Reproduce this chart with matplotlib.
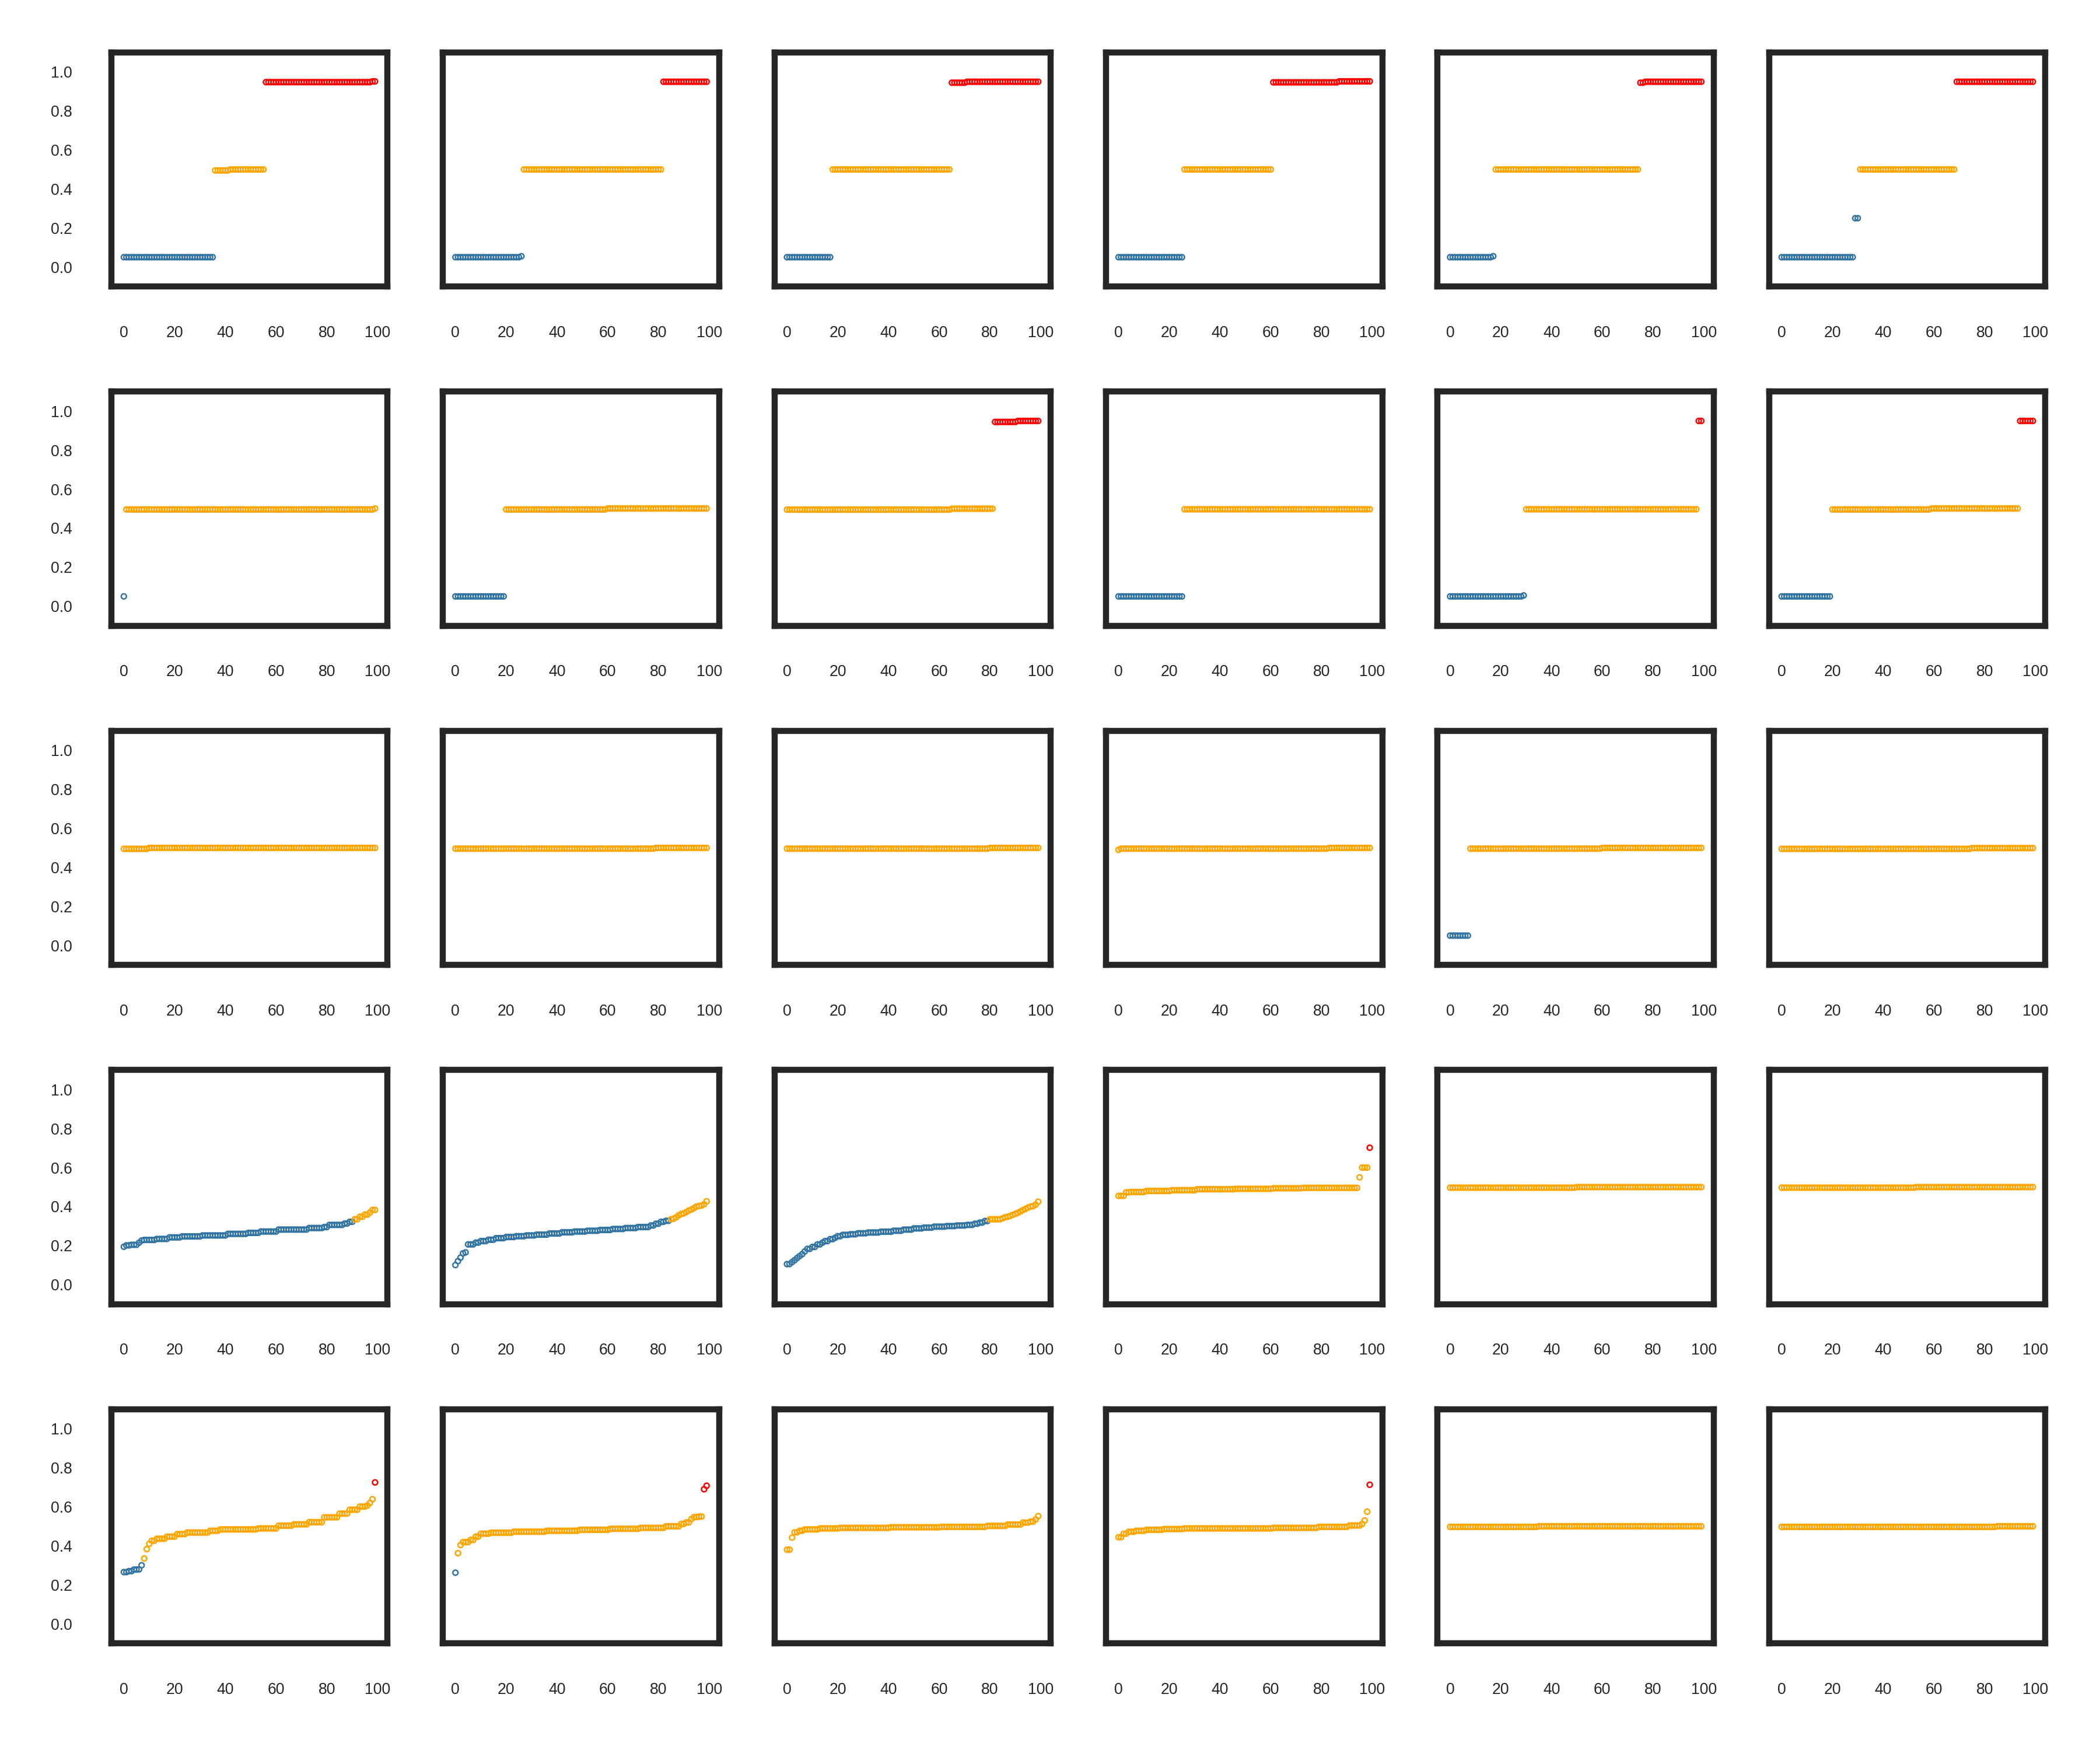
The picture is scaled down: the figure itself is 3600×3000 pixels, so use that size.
import numpy as np
import matplotlib
matplotlib.use("Agg")
import matplotlib.pyplot as plt

# every panel is 100 sorted scores, kept as (value, run length) pairs
# one list per panel, rows top to bottom
row1 = [
    [(0.05, 36), (0.495, 6), (0.5, 14), (0.948, 42), (0.952, 2)],
    [(0.05, 26), (0.055, 1), (0.5, 55), (0.95, 18)],
    [(0.05, 18), (0.5, 47), (0.945, 6), (0.95, 29)],
    [(0.05, 26), (0.5, 35), (0.947, 26), (0.952, 13)],
    [(0.05, 17), (0.055, 1), (0.5, 57), (0.945, 2), (0.95, 23)],
    [(0.05, 29), (0.25, 2), (0.5, 38), (0.95, 31)],
]
row2 = [
    [(0.05, 1), (0.496, 98), (0.501, 1)],
    [(0.05, 20), (0.496, 40), (0.501, 40)],
    [(0.495, 65), (0.5, 17), (0.945, 9), (0.95, 9)],
    [(0.05, 26), (0.497, 74)],
    [(0.05, 29), (0.055, 1), (0.497, 68), (0.95, 2)],
    [(0.05, 20), (0.496, 39), (0.501, 35), (0.95, 6)],
]
row3 = [
    [(0.495, 10), (0.5, 90)],
    [(0.496, 79), (0.5, 21)],
    [(0.496, 80), (0.5, 20)],
    [(0.49, 1), (0.496, 82), (0.5, 17)],
    [(0.05, 8), (0.496, 52), (0.5, 40)],
    [(0.495, 75), (0.499, 25)],
]
row4 = [
    [(0.194, 1), (0.201, 2), (0.204, 3), (0.215, 1), (0.226, 1), (0.229, 5),
     (0.234, 5), (0.242, 5), (0.247, 8), (0.252, 10), (0.26, 8), (0.265, 5),
     (0.272, 7), (0.282, 12), (0.29, 6), (0.295, 2), (0.306, 6), (0.313, 2),
     (0.322, 2), (0.335, 2), (0.348, 2), (0.359, 2), (0.37, 1), (0.383, 2)],
    [(0.10, 1), (0.12, 1), (0.138, 1), (0.16, 1), (0.165, 1), (0.206, 3),
     (0.215, 2), (0.223, 3), (0.23, 3), (0.238, 4), (0.244, 4), (0.248, 4),
     (0.252, 4), (0.256, 5), (0.262, 5), (0.268, 5), (0.272, 5), (0.276, 5),
     (0.28, 5), (0.285, 5), (0.29, 5), (0.295, 5), (0.303, 2), (0.312, 2),
     (0.322, 2), (0.327, 2),
     (0.335, 1), (0.338, 1), (0.345, 1), (0.355, 1), (0.362, 1), (0.365, 1),
     (0.372, 1), (0.38, 1), (0.385, 1), (0.392, 1), (0.40, 1), (0.403, 1),
     (0.405, 1), (0.412, 1), (0.427, 1)],
    [(0.105, 2), (0.115, 1), (0.125, 1), (0.136, 1), (0.146, 1), (0.156, 1),
     (0.17, 1), (0.183, 2), (0.193, 2), (0.206, 2), (0.215, 1), (0.223, 2),
     (0.233, 2), (0.24, 1), (0.248, 2), (0.255, 3), (0.258, 3), (0.263, 4),
     (0.267, 5), (0.271, 5), (0.276, 4), (0.282, 4), (0.288, 4), (0.292, 4),
     (0.297, 5), (0.30, 4), (0.303, 4), (0.306, 3), (0.312, 2), (0.318, 2),
     (0.326, 2),
     (0.335, 5), (0.34, 1), (0.345, 1), (0.348, 1), (0.352, 1), (0.358, 1),
     (0.363, 1), (0.368, 1), (0.375, 1), (0.382, 1), (0.388, 1), (0.395, 1),
     (0.40, 1), (0.402, 1), (0.41, 1), (0.425, 1)],
    [(0.455, 3), (0.473, 2), (0.475, 6), (0.48, 10), (0.484, 10), (0.489, 15),
     (0.491, 15), (0.494, 12), (0.496, 22), (0.55, 1), (0.60, 3), (0.702, 1)],
    [(0.497, 50), (0.5, 50)],
    [(0.497, 53), (0.5, 47)],
]
row5 = [
    [(0.265, 2), (0.27, 2), (0.278, 2), (0.279, 1), (0.30, 1), (0.335, 1),
     (0.383, 1), (0.41, 1), (0.426, 2), (0.436, 4), (0.447, 4), (0.46, 4),
     (0.468, 9), (0.477, 4), (0.484, 15), (0.489, 8), (0.503, 6), (0.51, 6),
     (0.521, 6), (0.546, 6), (0.565, 4), (0.585, 4), (0.601, 3), (0.607, 1),
     (0.62, 1), (0.639, 1), (0.725, 1)],
    [(0.262, 1), (0.362, 1), (0.404, 1), (0.419, 3), (0.43, 2), (0.447, 2),
     (0.462, 4), (0.467, 9), (0.472, 13), (0.477, 13), (0.482, 12), (0.487, 12),
     (0.492, 10), (0.50, 6), (0.512, 2), (0.52, 2), (0.537, 1), (0.547, 2),
     (0.55, 2), (0.69, 1), (0.708, 1)],
    [(0.38, 2), (0.442, 1), (0.469, 2), (0.477, 2), (0.484, 6), (0.489, 8),
     (0.492, 20), (0.495, 20), (0.497, 18), (0.502, 8), (0.509, 6), (0.519, 3),
     (0.524, 2), (0.535, 1), (0.552, 1)],
    [(0.444, 2), (0.462, 2), (0.472, 3), (0.477, 4), (0.482, 7), (0.486, 8),
     (0.489, 35), (0.492, 18), (0.497, 12), (0.504, 5), (0.512, 1), (0.53, 1),
     (0.575, 1), (0.713, 1)],
    [(0.497, 35), (0.5, 65)],
    [(0.497, 85), (0.5, 15)],
]
panels = [row1, row2, row3, row4, row5]

x_ticks = [0, 20, 40, 60, 80, 100]
y_ticks = [0.0, 0.2, 0.4, 0.6, 0.8, 1.0]

LOW, MID, HIGH = "#3274a1", "orange", "red"
INK = "#262626"


def expand(runs):
    return np.concatenate([np.full(n, v) for v, n in runs])


def band_colors(v):
    # below a third -> blue, below two thirds -> orange, rest red
    return np.where(v < 1 / 3, LOW, np.where(v < 2 / 3, MID, HIGH))


plt.rcParams["font.family"] = ["Liberation Sans", "DejaVu Sans"]

fig, axes = plt.subplots(5, 6, figsize=(12, 10), dpi=300, sharey=True)
fig.subplots_adjust(left=0.053, right=0.974, top=0.97, bottom=0.061,
                    wspace=0.2, hspace=0.45)

for r, row in enumerate(panels):
    for c, runs in enumerate(row):
        ax = axes[r, c]
        v = expand(runs)
        x = np.arange(len(v))
        ax.scatter(x, v, s=4.5, facecolors="none",
                   edgecolors=band_colors(v), linewidths=0.6)
        ax.set_ylim(-0.1, 1.1)
        ax.set_xticks(x_ticks)
        ax.set_yticks(y_ticks)
        ax.set_yticklabels(["%.1f" % t for t in y_ticks])
        ax.tick_params(length=0, pad=16, labelsize=6.4, colors=INK)
        for s in ax.spines.values():
            s.set_linewidth(2.5)
            s.set_color(INK)
        if c > 0:
            ax.tick_params(labelleft=False)

fig.savefig("out.png", dpi=300, facecolor="white")
